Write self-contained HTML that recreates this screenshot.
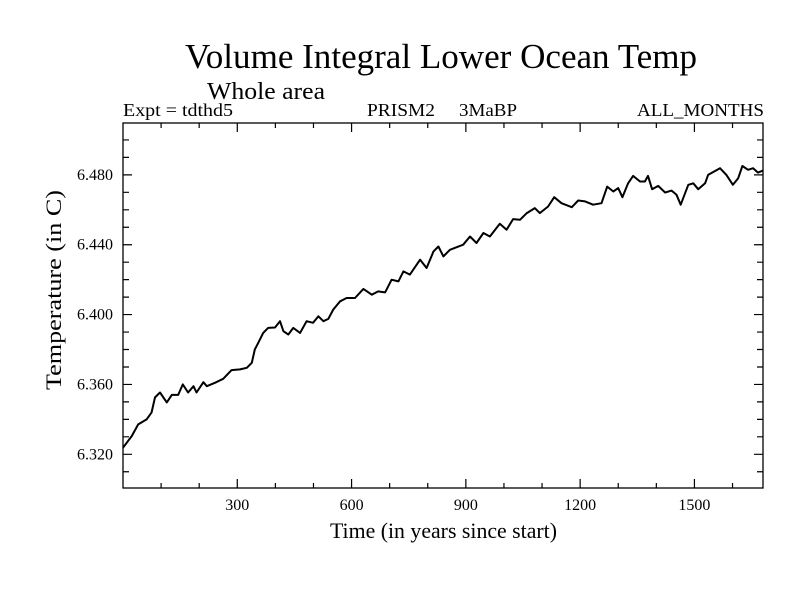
<!DOCTYPE html>
<html><head><meta charset="utf-8"><style>
body{margin:0;background:#fff}
svg text{font-family:"Liberation Serif",serif;fill:#000}
</style></head><body>
<svg id="chart" width="800" height="600" xmlns="http://www.w3.org/2000/svg">
<rect width="800" height="600" fill="#fff"/>
<text x="185" y="68" font-size="35" textLength="512" lengthAdjust="spacingAndGlyphs">Volume Integral Lower Ocean Temp</text>
<text x="207" y="99" font-size="24" textLength="118" lengthAdjust="spacingAndGlyphs">Whole area</text>
<text x="123" y="116" font-size="18" textLength="110" lengthAdjust="spacingAndGlyphs">Expt = tdthd5</text>
<text x="367" y="116" font-size="18" textLength="68" lengthAdjust="spacingAndGlyphs">PRISM2</text>
<text x="459" y="116" font-size="18" textLength="58" lengthAdjust="spacingAndGlyphs">3MaBP</text>
<text x="637" y="116" font-size="18" textLength="127" lengthAdjust="spacingAndGlyphs">ALL_MONTHS</text>
<g id="axes"></g>
<text x="330" y="538" font-size="22" textLength="227" lengthAdjust="spacingAndGlyphs">Time (in years since start)</text>
<text x="0" y="0" font-size="22" text-anchor="middle" textLength="200" lengthAdjust="spacingAndGlyphs" transform="translate(61,290) rotate(-90)">Temperature (in C)</text>
</svg>
<script>
const years=[0,23,40,62,75,84,97,115,128,145,157,171,185,193,211,220,242,263,285,307,325,338,346,355,368,381,399,412,421,434,447,465,482,499,513,526,539,552,570,587,609,631,653,670,688,705,723,736,753,780,797,815,828,841,854,858,893,911,928,946,963,989,1007,1024,1042,1060,1081,1094,1116,1132,1151,1178,1195,1213,1234,1256,1271,1287,1300,1311,1326,1339,1357,1370,1378,1389,1405,1423,1440,1453,1464,1484,1497,1510,1528,1536,1567,1584,1601,1615,1626,1641,1654,1667,1680];
const temps=[6.3238,6.3305,6.3371,6.340,6.344,6.3526,6.3554,6.3497,6.354,6.354,6.360,6.3554,6.359,6.3554,6.3613,6.359,6.361,6.3632,6.3682,6.3686,6.3695,6.3724,6.380,6.3838,6.3895,6.3924,6.3926,6.3962,6.3905,6.3886,6.3924,6.3895,6.3962,6.3953,6.3990,6.3962,6.3975,6.4029,6.4076,6.4095,6.4095,6.4147,6.4114,6.4133,6.4127,6.420,6.419,6.4247,6.4229,6.4314,6.4267,6.4362,6.439,6.4333,6.4362,6.4371,6.440,6.4447,6.441,6.4467,6.4447,6.452,6.4486,6.4547,6.4543,6.4581,6.461,6.4581,6.4619,6.4672,6.4638,6.4615,6.4653,6.4648,6.4629,6.4638,6.4733,6.4705,6.4724,6.4672,6.4752,6.4794,6.4762,6.4762,6.4794,6.4718,6.4737,6.4699,6.471,6.4686,6.4629,6.4743,6.4752,6.4718,6.4752,6.480,6.4838,6.480,6.4743,6.4781,6.4851,6.4829,6.4838,6.4813,6.4825];
const xTicks=[300,600,900,1200,1500];
const yTicks=[6.320,6.360,6.400,6.440,6.480];
const xDomain=[0,1680], yDomain=[6.3007,6.5097];
const L=123,R=763,T=123,B=488;
const sx=v=>L+(v-xDomain[0])/(xDomain[1]-xDomain[0])*(R-L);
const sy=v=>B-(v-yDomain[0])/(yDomain[1]-yDomain[0])*(B-T);
const NS="http://www.w3.org/2000/svg";
const g=document.getElementById('axes');
function mk(t,a){const e=document.createElementNS(NS,t);for(const k in a)e.setAttribute(k,a[k]);g.appendChild(e);return e;}
const frame=mk('rect',{x:L,y:T,width:R-L,height:B-T,fill:'none',stroke:'#000','stroke-width':1.3});


let td='';
for(let v=100;v<xDomain[1];v+=100){const x=sx(v),len=v%300===0?9:5;td+=`M${x},${B}v${-len}M${x},${T}v${len}`;}
for(let k=631;k<=650;k++){const v=k/100;const y=sy(v),len=(Math.round(v*1000)%40===0)?9:6;td+=`M${L},${y}h${len}M${R},${y}h${-len}`;}
const ticks=mk('path',{d:td,stroke:'#000','stroke-width':1.2,fill:'none'});


xTicks.forEach(v=>{const t=mk('text',{x:sx(v),y:510,'font-size':16,'text-anchor':'middle'});t.textContent=v;

});
yTicks.forEach(v=>{const t=mk('text',{x:113,y:sy(v)+5,'font-size':16,'text-anchor':'end'});t.textContent=v.toFixed(3);

});
const line=mk('path',{d:years.map((y,i)=>(i?'L':'M')+sx(y).toFixed(1)+','+sy(temps[i]).toFixed(1)).join(''),fill:'none',stroke:'#000','stroke-width':2,'stroke-linejoin':'round'});


</script>
</body></html>
